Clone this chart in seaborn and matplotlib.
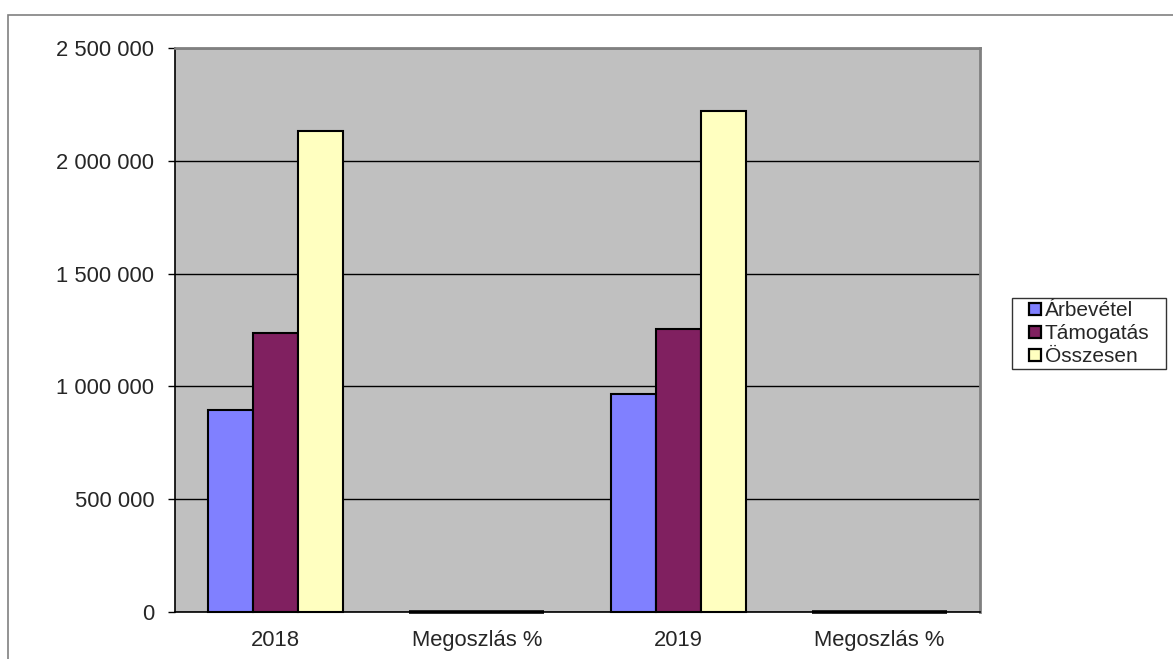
import pandas as pd
import matplotlib
matplotlib.use("Agg")
import matplotlib.pyplot as plt
import matplotlib.ticker as mticker
from matplotlib.patches import Rectangle
from matplotlib.lines import Line2D
import seaborn as sns

categories = ['2018', 'Megoszlás %', '2019', 'Megoszlás % ']
tick_labels = ['2018', 'Megoszlás %', '2019', 'Megoszlás %']
series = ['Árbevétel', 'Támogatás', 'Összesen']
arbevetel = [895000, 42.0, 968000, 43.6]
tamogatas = [1235000, 58.0, 1253000, 56.4]
osszesen = [2130000, 100.0, 2221000, 100.0]
colors = ['#8080FF', '#802060', '#FFFFC0']


def main():
    sns.set_style('white')
    plt.rcParams['font.family'] = ['Liberation Sans', 'DejaVu Sans']

    rows = []
    for name, vals in zip(series, [arbevetel, tamogatas, osszesen]):
        for cat, v in zip(categories, vals):
            rows.append({'cat': cat, 'series': name, 'value': v})
    df = pd.DataFrame(rows)

    fig = plt.figure(figsize=(11.73, 6.59), dpi=100)
    ax = fig.add_axes([175 / 1173, 47 / 659, 805 / 1173, 564 / 659])
    ax.set_facecolor('#C0C0C0')

    sns.barplot(data=df, x='cat', y='value', hue='series', order=categories,
                hue_order=series, palette=colors, width=0.67, gap=0,
                edgecolor='black', linewidth=1.5, saturation=1, ax=ax, zorder=3,
                legend=False)
    # the % bars are flat: only their outline shows, as a thick line on the axis
    for p in ax.patches:
        p.set_clip_on(False)
        if abs(p.get_height()) < 1000:
            p.set_linewidth(2.6)

    ax.set_ylim(0, 2500000)
    ax.set_xlim(-0.5, 3.5)
    ax.yaxis.set_major_locator(mticker.MultipleLocator(500000))
    ax.yaxis.set_major_formatter(mticker.FuncFormatter(
        lambda v, p: f"{int(v):,}".replace(",", " ")))
    ax.grid(axis='y', color='black', linewidth=1, zorder=1)
    ax.set_axisbelow(True)

    ax.set_xticks(range(4))
    ax.set_xticklabels(tick_labels)
    ax.set_xticks([-0.5, 0.5, 1.5, 2.5, 3.5], minor=True)
    ax.tick_params(axis='x', which='major', length=0, pad=13, labelsize=15.8)
    ax.tick_params(axis='x', which='minor', length=5, width=1, color='black', direction='out')
    ax.tick_params(axis='y', length=5, width=1, color='black', direction='out',
                   pad=10, labelsize=15.8, left=True)
    ax.set_xlabel('')
    ax.set_ylabel('')

    for s in ['left', 'bottom']:
        ax.spines[s].set_color('black')
        ax.spines[s].set_linewidth(1.2)
    for s in ['top', 'right']:
        ax.spines[s].set_color('#808080')
        ax.spines[s].set_linewidth(2)

    handles = [Line2D([], [], linestyle='none', marker='s', markersize=8,
                      markerfacecolor=c, markeredgecolor='black', markeredgewidth=1.6)
               for c in colors]
    leg = ax.legend(handles, series, loc='center left',
                    bbox_to_anchor=(1.0398, 0.4326, 0.1913, 0.1223), mode='expand',
                    fontsize=15, frameon=True, fancybox=False, edgecolor='black',
                    handlelength=1.93, handletextpad=-0.47,
                    borderpad=0.12, labelspacing=0.2, borderaxespad=0)
    leg.get_frame().set_linewidth(1)

    # outer chart border (cut off at right and bottom)
    fig.patches.append(Rectangle((8 / 1173, -0.05), 1.1, 1 - 15 / 659 + 0.05,
                                 fill=False, edgecolor='#808080', linewidth=1.2,
                                 transform=fig.transFigure))

    fig.savefig('out.png', dpi=100)
    return 0


if __name__ == '__main__':
    import sys
    sys.exit(main())
